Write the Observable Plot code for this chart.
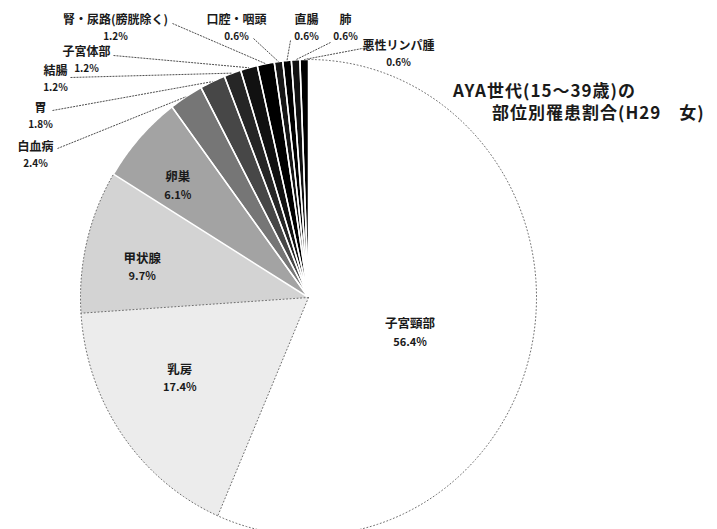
<!DOCTYPE html>
<html><head><meta charset="utf-8">
<script src="https://cdn.jsdelivr.net/npm/d3@7"></script>
<script src="https://cdn.jsdelivr.net/npm/@observablehq/plot@0.6"></script>
<style>
body{margin:0;background:#fff;}
#wrap{position:relative;width:717px;height:529px;overflow:hidden;}
.title{position:absolute;font-family:"Noto Sans CJK JP";font-weight:bold;font-size:17px;letter-spacing:1px;color:#1a1a1a;white-space:nowrap;line-height:18px;}
</style></head><body>
<div id="wrap"></div>
<script>
// ---- data ----
const categories = ["子宮頸部","乳房","甲状腺","卵巣","白血病","胃","結腸","子宮体部","腎・尿路(膀胱除く)","口腔・咽頭","直腸","肺","悪性リンパ腫"];
const values = [56.4, 17.4, 9.7, 6.1, 2.4, 1.8, 1.2, 1.2, 1.2, 0.6, 0.6, 0.6, 0.6];
const titleLines = ["AYA世代(15～39歳)の", "部位別罹患割合(H29　女)"];

// ---- style / layout ----
const fills = ["#ffffff","#ececec","#d3d3d3","#a3a3a3","#767676","#474747","#262626","#111111","#000000","#161616","#000000","#121212","#000000"];
const insideCount = 4; // first slices labelled inside
// inside label placement: radius factor and angle offset (degrees) from slice mid-angle
const innerLayout = [{r:0.47, da:7}, {r:0.66, da:4}, {r:0.74, da:-4}, {r:0.74, da:-3}];
// outer label layout in pixels: name centre (x,y) and leader start (sx,sy)
const outerLayout = [
  {x:35,  y:147, sx:57,  sy:148},
  {x:40,  y:108, sx:52,  sy:110},
  {x:55,  y:71,  sx:70,  sy:77},
  {x:86,  y:52,  sx:113, sy:55},
  {x:115, y:20,  sx:172, sy:23},
  {x:236, y:20,  sx:253, sy:38},
  {x:306, y:20,  sx:290, sy:40},
  {x:345, y:20,  sx:330, sy:42},
  {x:398, y:46,  sx:367, sy:47}
];
const W = 717, H = 529, CX = 308, CY = 297, RX = 228, RY = 238;
const fx = X => (X - CX) / RX, fy = Y => (CY - Y) / RY;
const FONT = '"Noto Sans CJK JP", "Noto Sans", sans-serif';

// ---- geometry from data ----
const table = categories.map((name, i) => ({name, value: values[i], fill: fills[i], pct: values[i].toFixed(1) + "%"}));
const arcs = d3.pie().sort(null).value(d => d.value)(table);
const step = Math.PI / 360;
const slicePts = [];
arcs.forEach((a, i) => {
  const name = a.data.name;
  slicePts.push({name, i, x: 0, y: 0});
  const n = Math.max(2, Math.ceil((a.endAngle - a.startAngle) / step));
  for (let k = 0; k <= n; k++) {
    const t = a.startAngle + (a.endAngle - a.startAngle) * k / n;
    slicePts.push({name, i, x: Math.sin(t), y: Math.cos(t)});
  }
  slicePts.push({name, i, x: 0, y: 0});
});
// dotted outline for light slices
const outline = [];
{
  const a0 = arcs[0].startAngle, a1 = arcs[2].endAngle;
  const n = Math.ceil((a1 - a0) / step);
  for (let k = 0; k <= n; k++) { const t = a0 + (a1 - a0) * k / n; outline.push({seg: "arc", x: Math.sin(t), y: Math.cos(t)}); }
  [arcs[0].endAngle, arcs[1].endAngle].forEach((t, j) => {
    outline.push({seg: "r" + j, x: 0, y: 0});
    outline.push({seg: "r" + j, x: Math.sin(t), y: Math.cos(t)});
  });
}
const mid = a => (a.startAngle + a.endAngle) / 2;
const inner = arcs.slice(0, insideCount).map((a, i) => {
  const L = innerLayout[i], m = mid(a) + L.da * Math.PI / 180;
  return {x: L.r * Math.sin(m), y: L.r * Math.cos(m), name: a.data.name, pct: a.data.pct};
});
const outer = arcs.slice(insideCount).map((a, j) => {
  const L = outerLayout[j], m = mid(a);
  return {name: a.data.name, pct: a.data.pct, x: fx(L.x), y: fy(L.y), yp: fy(L.y + 16),
          x1: fx(L.sx), y1: fy(L.sy), x2: Math.sin(m), y2: Math.cos(m)};
});

const chart = Plot.plot({
  width: W, height: H, margin: 0,
  style: {fontFamily: FONT, background: "white"},
  x: {domain: [fx(0), fx(W)], axis: null},
  y: {domain: [fy(H), fy(0)], axis: null},
  color: {domain: categories, range: fills},
  marks: [
    Plot.line(slicePts, {x: "x", y: "y", z: "name", fill: "name", stroke: "none", curve: "linear"}),
    Plot.line(slicePts.filter(d => d.i >= 3), {x: "x", y: "y", z: "name", stroke: "white", strokeWidth: 1.5, curve: "linear"}),
    Plot.line(outline, {x: "x", y: "y", z: "seg", stroke: "#6e6e6e", strokeWidth: 1, strokeDasharray: "1,2.5", curve: "linear"}),
    Plot.link(outer, {x1: "x1", y1: "y1", x2: "x2", y2: "y2", stroke: "#3a3a3a", strokeWidth: 0.9, strokeDasharray: "2,1"}),
    Plot.text(inner, {x: "x", y: "y", text: "name", dy: -9, fontSize: 12.5, fontWeight: "bold", fill: "#1a1a1a", fontFamily: FONT}),
    Plot.text(inner, {x: "x", y: "y", text: "pct", dy: 9, fontSize: 11, fontWeight: "bold", fill: "#1a1a1a", fontFamily: FONT}),
    Plot.text(outer, {x: "x", y: "y", text: "name", fontSize: 12, fontWeight: "bold", fill: "#1a1a1a", fontFamily: FONT}),
    Plot.text(outer, {x: "x", y: "yp", text: "pct", fontSize: 10, fontWeight: "bold", fill: "#1a1a1a", fontFamily: FONT})
  ]
});
const wrap = document.getElementById("wrap");
wrap.appendChild(chart);
const titlePos = [{left: 453, top: 81}, {left: 492, top: 103}];
titleLines.forEach((t, i) => {
  const d = document.createElement("div");
  d.className = "title";
  d.style.left = titlePos[i].left + "px";
  d.style.top = titlePos[i].top + "px";
  d.textContent = t;
  wrap.appendChild(d);
});
</script>
</body></html>
